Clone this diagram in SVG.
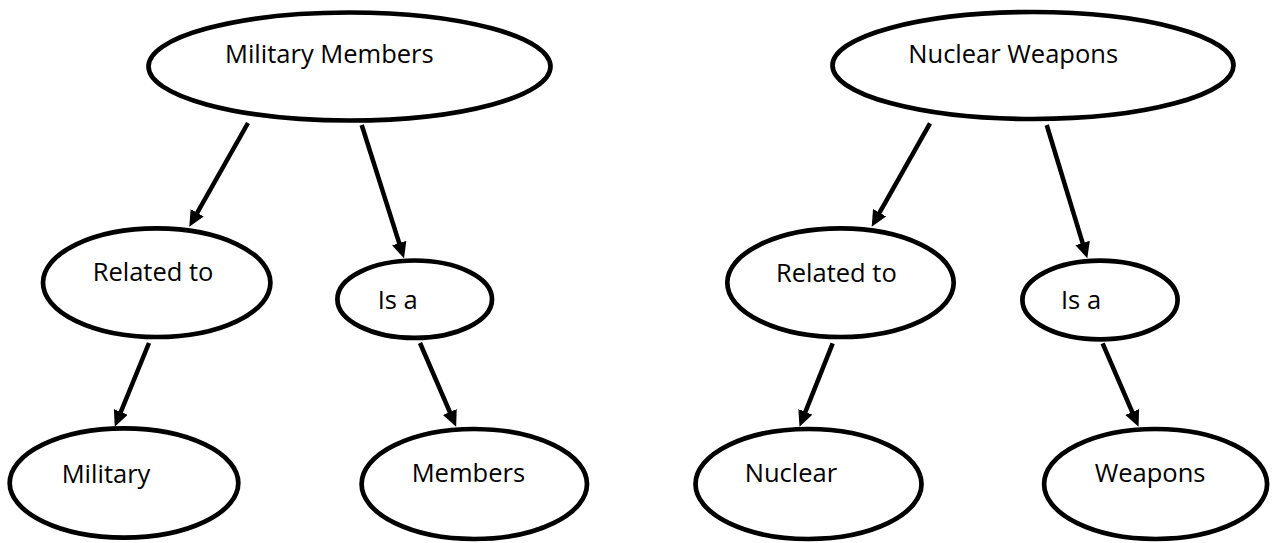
<svg xmlns="http://www.w3.org/2000/svg" width="1282" height="543" viewBox="0 0 1282 543">
  <style>
    .node ellipse { fill: #ffffff; stroke: #000000; stroke-width: 4.7; }
    .node text { font-family: "Open Sans", "Liberation Sans", sans-serif; font-size: 25.5px; fill: #000000; }
    .edge { stroke: #000000; stroke-width: 4.5; fill: none; marker-end: url(#arrow); }
  </style>
  <defs>
    <marker id="arrow" markerUnits="userSpaceOnUse" markerWidth="18" markerHeight="16" refX="4" refY="7.5" orient="auto" viewBox="0 0 18 16">
      <path d="M0,0 L16,7.5 L0,15 z" fill="#000000"/>
    </marker>
  </defs>
  <rect x="0" y="0" width="1282" height="543" fill="#ffffff"/>

  <g id="n-military-members" class="node">
    <ellipse cx="349.5" cy="66.5" rx="201" ry="54"/>
    <text x="225" y="63">Military Members</text>
  </g>
  <g id="n-related-left" class="node">
    <ellipse cx="156.7" cy="282.7" rx="113.7" ry="54.3"/>
    <text x="92.7" y="281">Related to</text>
  </g>
  <g id="n-isa-left" class="node">
    <ellipse cx="414.7" cy="299.2" rx="77.3" ry="38.7"/>
    <text x="377.7" y="309">Is a</text>
  </g>
  <g id="n-military" class="node">
    <ellipse cx="124" cy="483" rx="114.3" ry="54.6"/>
    <text x="61.7" y="483.3">Military</text>
  </g>
  <g id="n-members" class="node">
    <ellipse cx="474.3" cy="484" rx="112.7" ry="55"/>
    <text x="411.7" y="482.3">Members</text>
  </g>

  <g id="n-nuclear-weapons" class="node">
    <ellipse cx="1033" cy="65.5" rx="200.5" ry="53.5"/>
    <text x="908.3" y="63.3">Nuclear Weapons</text>
  </g>
  <g id="n-related-right" class="node">
    <ellipse cx="840.5" cy="282.7" rx="113.2" ry="54.3"/>
    <text x="776" y="281.7">Related to</text>
  </g>
  <g id="n-isa-right" class="node">
    <ellipse cx="1100" cy="300" rx="77.6" ry="39.3"/>
    <text x="1061" y="309">Is a</text>
  </g>
  <g id="n-nuclear" class="node">
    <ellipse cx="808.5" cy="484" rx="113" ry="55"/>
    <text x="744.7" y="482.3">Nuclear</text>
  </g>
  <g id="n-weapons" class="node">
    <ellipse cx="1155.6" cy="484" rx="111.5" ry="55"/>
    <text x="1094.7" y="482">Weapons</text>
  </g>

  <g id="connectors">
    <line class="edge" x1="248" y1="123" x2="195.2" y2="216.3"/>
    <line class="edge" x1="361.7" y1="125" x2="400.4" y2="246.9"/>
    <line class="edge" x1="149" y1="343" x2="119.3" y2="415.6"/>
    <line class="edge" x1="420" y1="343" x2="451.4" y2="415.7"/>
    <line class="edge" x1="930" y1="123.3" x2="877.6" y2="216.2"/>
    <line class="edge" x1="1046.7" y1="125" x2="1083.8" y2="246.8"/>
    <line class="edge" x1="832.7" y1="343.3" x2="803.9" y2="415.6"/>
    <line class="edge" x1="1102.6" y1="343.3" x2="1133.8" y2="415.7"/>
  </g>
</svg>
